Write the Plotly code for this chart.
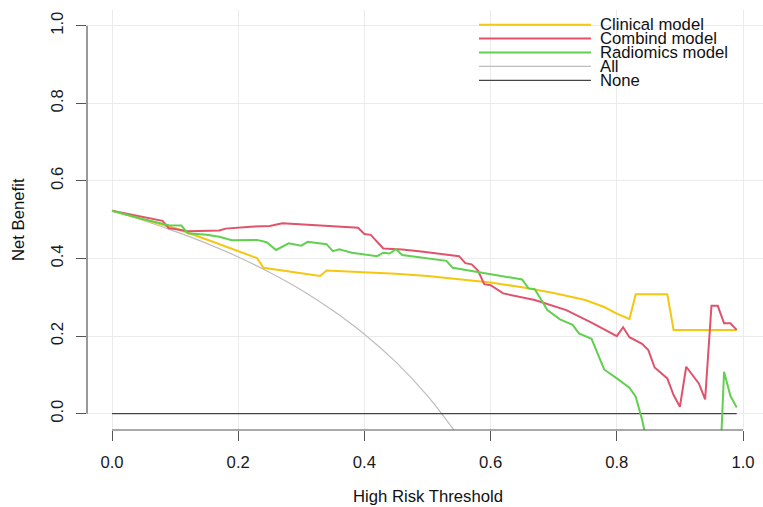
import plotly.graph_objects as go

# ---------------- data ----------------
clin_t = [0, 0.05, 0.10, 0.15, 0.20, 0.23, 0.24, 0.33, 0.34, 0.40, 0.45, 0.50, 0.55,
          0.60, 0.65, 0.70, 0.75, 0.78, 0.80, 0.82, 0.83, 0.88, 0.89, 0.99]
clin_nb = [0.523, 0.500, 0.478, 0.449, 0.419, 0.401, 0.376, 0.355, 0.369, 0.365, 0.361,
           0.355, 0.347, 0.338, 0.326, 0.311, 0.293, 0.275, 0.258, 0.244, 0.308, 0.308,
           0.216, 0.216]

comb_t = [0, 0.05, 0.08, 0.09, 0.10, 0.12, 0.15, 0.17, 0.18, 0.20, 0.22, 0.25, 0.27,
          0.39, 0.40, 0.41, 0.43, 0.46, 0.49, 0.55, 0.56, 0.57, 0.58, 0.59, 0.60, 0.62,
          0.67, 0.72, 0.76, 0.80, 0.81, 0.82, 0.84, 0.85, 0.86, 0.88, 0.89, 0.90, 0.91,
          0.93, 0.94, 0.95, 0.96, 0.97, 0.98, 0.99]
comb_nb = [0.523, 0.507, 0.497, 0.478, 0.476, 0.470, 0.472, 0.472, 0.477, 0.480, 0.482,
           0.484, 0.491, 0.479, 0.463, 0.461, 0.426, 0.423, 0.418, 0.406, 0.388, 0.385,
           0.369, 0.334, 0.331, 0.310, 0.293, 0.267, 0.235, 0.200, 0.223, 0.197, 0.180,
           0.164, 0.119, 0.091, 0.048, 0.018, 0.121, 0.078, 0.037, 0.278, 0.278, 0.233,
           0.233, 0.216]

rad_t = [0, 0.05, 0.09, 0.11, 0.12, 0.15, 0.17, 0.19, 0.23, 0.245, 0.26, 0.28, 0.30,
         0.31, 0.34, 0.35, 0.36, 0.38, 0.42, 0.43, 0.44, 0.45, 0.46, 0.49, 0.53, 0.54,
         0.65, 0.66, 0.67, 0.69, 0.71, 0.73, 0.74, 0.76, 0.78, 0.80, 0.82, 0.83, 0.84,
         0.85, 0.90, 0.96, 0.97, 0.98, 0.99]
rad_nb = [0.523, 0.501, 0.486, 0.485, 0.465, 0.461, 0.456, 0.447, 0.448, 0.442, 0.422,
          0.439, 0.433, 0.443, 0.437, 0.419, 0.424, 0.415, 0.406, 0.415, 0.413, 0.424,
          0.409, 0.403, 0.394, 0.376, 0.346, 0.323, 0.321, 0.267, 0.243, 0.229, 0.207,
          0.193, 0.114, 0.091, 0.067, 0.044, -0.015, -0.090, -0.250, -0.270, 0.108,
          0.046, 0.016]

all_t = [0, 0.05, 0.10, 0.15, 0.20, 0.25, 0.30, 0.35, 0.40, 0.45, 0.50, 0.55]
all_nb = [0.523, 0.498, 0.470, 0.439, 0.404, 0.364, 0.319, 0.266, 0.205, 0.133, 0.046, -0.060]

none_t = [0, 0.99]
none_nb = [0, 0]

tick_vals = [0, 0.2, 0.4, 0.6, 0.8, 1.0]
tick_text = ["0.0", "0.2", "0.4", "0.6", "0.8", "1.0"]

legend_names = ["Clinical model", "Combind model", "Radiomics model", "All", "None"]
legend_colors = ["#F5C710", "#DF536B", "#61D04F", "#BDBDBD", "#444444"]
legend_widths = [2, 2, 2, 1.2, 1.2]

# ---------------- figure ----------------
W, H = 763, 507
ML, MR, MT, MB = 87, 0, 10, 77
FONT = "Liberation Sans, Arial, sans-serif"
FS = 16.7

fig = go.Figure()
fig.add_trace(go.Scatter(x=all_t, y=all_nb, mode="lines", line=dict(color=legend_colors[3], width=1.2, shape="spline")))
fig.add_trace(go.Scatter(x=none_t, y=none_nb, mode="lines", line=dict(color=legend_colors[4], width=1.2)))
fig.add_trace(go.Scatter(x=clin_t, y=clin_nb, mode="lines", line=dict(color=legend_colors[0], width=2)))
fig.add_trace(go.Scatter(x=comb_t, y=comb_nb, mode="lines", line=dict(color=legend_colors[1], width=2)))
fig.add_trace(go.Scatter(x=rad_t, y=rad_nb, mode="lines", line=dict(color=legend_colors[2], width=2)))

pw, ph = W - ML - MR, H - MT - MB


def px_x(p):
    return (p - ML) / pw


def px_y(p):
    return (H - MB - p) / ph


shapes = [
    dict(type="line", xref="x", yref="paper", x0=0, x1=1, y0=0, y1=0,
         line=dict(color="#555555", width=1.2)),
    dict(type="line", xref="paper", yref="y", x0=0, x1=0, y0=0, y1=1,
         line=dict(color="#555555", width=1.2)),
]
annotations = []
row_y = [24.7, 38.6, 52.5, 66.4, 80.3]
for name, col, lw, ry in zip(legend_names, legend_colors, legend_widths, row_y):
    shapes.append(dict(type="line", xref="paper", yref="paper",
                       x0=px_x(479), x1=px_x(591), y0=px_y(ry), y1=px_y(ry),
                       line=dict(color=col, width=lw)))
    annotations.append(dict(text=name, xref="paper", yref="paper", x=px_x(598), y=px_y(ry),
                            xanchor="left", yanchor="middle", showarrow=False,
                            font=dict(family=FONT, size=FS, color="#111111")))

annotations.append(dict(text="Net Benefit", xref="paper", yref="paper", x=px_x(18), y=0.5,
                        textangle=-90, xanchor="center", yanchor="middle", showarrow=False,
                        font=dict(family=FONT, size=FS, color="#111111")))
annotations.append(dict(text="High Risk Threshold", xref="paper", yref="paper",
                        x=px_x(427.5), y=px_y(497), xanchor="center", yanchor="middle",
                        showarrow=False, font=dict(family=FONT, size=FS, color="#111111")))

x_span = pw / 631.0
y_span = ph / 388.0
x0 = -25.0 / 631.0
y0 = -16.3 / 388.0

fig.update_layout(
    width=W, height=H, margin=dict(l=ML, r=MR, t=MT, b=MB, pad=0),
    paper_bgcolor="white", plot_bgcolor="white", showlegend=False,
    font=dict(family=FONT, size=FS, color="#1a1a1a"),
    shapes=shapes, annotations=annotations,
    xaxis=dict(range=[x0, x0 + x_span], tickvals=tick_vals, ticktext=tick_text,
               ticks="outside", ticklen=10, tickwidth=1.2, tickcolor="#555555",
               showline=False, zeroline=False, showgrid=True, gridcolor="#EBEBEB",
               gridwidth=1, tickfont=dict(size=FS, color="#1a1a1a"), ticklabelstandoff=7),
    yaxis=dict(range=[y0, y0 + y_span], tickvals=tick_vals, ticktext=tick_text,
               ticks="outside", ticklen=10, tickwidth=1.2, tickcolor="#555555",
               showline=False, zeroline=False, showgrid=True, gridcolor="#EBEBEB",
               gridwidth=1, tickangle=-90, tickfont=dict(size=FS, color="#1a1a1a"),
               ticklabelstandoff=6),
)

fig.write_html("out.html")
